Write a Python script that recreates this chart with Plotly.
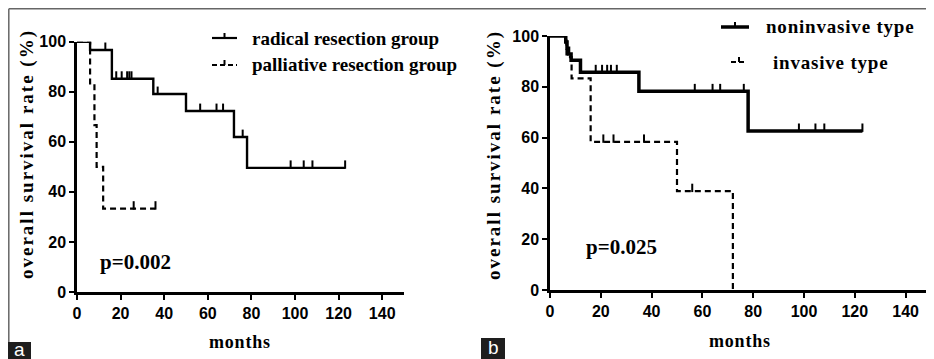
import plotly.graph_objects as go

# ---------------- data ----------------
months_ticks = [0, 20, 40, 60, 80, 100, 120, 140]
rate_ticks = [0, 20, 40, 60, 80, 100]

# panel a
radical_t = [0, 6, 16, 35, 50, 72, 78, 123]
radical_s = [100, 96.7, 85.2, 79.1, 72.3, 61.9, 49.6, 49.6]
radical_cens = [13, 18, 20.5, 23, 24, 25, 37, 56.5, 64, 67, 76, 98, 104, 108, 123]

palliative_t = [0, 6, 8, 9, 12, 36]
palliative_s = [100, 83.3, 66.7, 50, 33.3, 33.3]
palliative_cens = [26, 36]

# panel b
nonin_t = [0, 6.2, 6.7, 7.3, 8.3, 12, 35, 78, 123]
nonin_s = [100, 97.6, 95.2, 92.9, 90.5, 85.7, 78.2, 62.6, 62.6]
nonin_cens = [5.8, 18, 20.5, 22.5, 24, 26.3, 57, 64, 67, 76.3, 98, 104.5, 108, 123]

inv_t = [0, 6.5, 8.5, 16, 50, 72]
inv_s = [100, 91.7, 83.3, 58.3, 38.9, 0]
inv_cens = [21, 25, 37, 56]

# page is 934x359; the html body has an 8px margin, so the figure is 926x351 at (8, 8)
OFF = 8
W, H = 934 - OFF, 359 - OFF


def px(x):
    return (x - OFF) / W


def py(y):
    return 1 - (y - OFF) / H


def surv_at(ts, ss, t):
    v = ss[0]
    for ti, si in zip(ts, ss):
        if ti <= t:
            v = si
    return v


def ls(text, sp):
    return '<span style="letter-spacing:%spx">%s</span>' % (sp, text)


fig = go.Figure()

TICK_OFF = 1.3
DASH = "6px,4px"


def add_curve(ts, ss, cens, xa, ya, width, dash):
    fig.add_trace(go.Scatter(
        x=ts, y=ss, mode="lines", line=dict(shape="hv", color="black", width=width, dash=dash),
        xaxis=xa, yaxis=ya, showlegend=False, hoverinfo="skip", cliponaxis=False))
    cy = [surv_at(ts, ss, c) + TICK_OFF for c in cens]
    fig.add_trace(go.Scatter(
        x=cens, y=cy, mode="markers",
        marker=dict(symbol="line-ns", size=6, line=dict(color="black", width=2)),
        xaxis=xa, yaxis=ya, showlegend=False, hoverinfo="skip", cliponaxis=False))


add_curve(radical_t, radical_s, radical_cens, "x", "y", 2.4, "solid")
add_curve(palliative_t, palliative_s, palliative_cens, "x", "y", 2.2, DASH)
add_curve(nonin_t, nonin_s, nonin_cens, "x2", "y2", 3.5, "solid")
add_curve(inv_t, inv_s, inv_cens, "x2", "y2", 2.2, DASH)

tickfont = dict(family="Liberation Sans", size=16, color="black", weight="bold")
ax_common = dict(showline=True, linewidth=2.5, linecolor="black", ticks="outside", ticklen=5,
                 tickwidth=2, tickcolor="black", showgrid=False, zeroline=False,
                 tickfont=tickfont, fixedrange=True, automargin=False)

fig.update_layout(
    width=W, height=H, margin=dict(l=0, r=0, t=0, b=0, pad=0, autoexpand=False),
    plot_bgcolor="white", paper_bgcolor="white", showlegend=False,
    xaxis=dict(domain=[px(77), px(404)], range=[0, 150], tickvals=months_ticks, anchor="y", **ax_common),
    yaxis=dict(domain=[py(292), py(41.7)], range=[0, 100], tickvals=rate_ticks, anchor="x", **ax_common),
    xaxis2=dict(domain=[px(550), px(931)], range=[0, 150], tickvals=months_ticks, anchor="y2", **ax_common),
    yaxis2=dict(domain=[py(290), py(36)], range=[0, 100], tickvals=rate_ticks, anchor="x2", **ax_common),
)

serif = "Liberation Serif"
ann = []
shapes = []

# axis titles
for cx, cy in [(27, 154), (494, 155)]:
    ann.append(dict(x=px(cx), y=py(cy), xref="paper", yref="paper", text=ls("overall survival rate (%)", 2),
                    textangle=-90, showarrow=False, xanchor="center", yanchor="middle",
                    font=dict(family=serif, size=19, color="black", weight="bold")))
for cx, cy in [(240, 342), (740, 341)]:
    ann.append(dict(x=px(cx), y=py(cy), xref="paper", yref="paper", text=ls("months", 0.8),
                    showarrow=False, xanchor="center", yanchor="middle",
                    font=dict(family=serif, size=18, color="black", weight="bold")))

# p values
ann.append(dict(x=px(98), y=py(262), xref="paper", yref="paper", text="p=0.002", showarrow=False,
                xanchor="left", yanchor="middle", font=dict(family=serif, size=21, color="black", weight="bold")))
ann.append(dict(x=px(584), y=py(247), xref="paper", yref="paper", text="p=0.025", showarrow=False,
                xanchor="left", yanchor="middle", font=dict(family=serif, size=21, color="black", weight="bold")))

# legends
legend_items = [
    ("radical resection group", 212, 237, 38, 250, 2.2, "solid", 0),
    ("palliative resection group", 212, 237, 65, 250, 2.2, "5px,3px", 0),
    ("noninvasive type", 721, 749, 27, 764, 3.5, "solid", 0.8),
    ("invasive type", 731, 747, 62, 771, 2.2, "5px,3px", 0.8),
]
for text, x0, x1, yy, tx, w, d, sp in legend_items:
    shapes.append(dict(type="line", xref="paper", yref="paper", x0=px(x0), x1=px(x1), y0=py(yy), y1=py(yy),
                       line=dict(color="black", width=w, dash=d)))
    xm = (x0 + x1) / 2
    shapes.append(dict(type="line", xref="paper", yref="paper", x0=px(xm), x1=px(xm), y0=py(yy), y1=py(yy - 5),
                       line=dict(color="black", width=2)))
    ann.append(dict(x=px(tx), y=py(yy), xref="paper", yref="paper", text=ls(text, sp), showarrow=False,
                    xanchor="left", yanchor="middle",
                    font=dict(family=serif, size=19, color="black", weight="bold")))

# frame
shapes.append(dict(type="line", xref="paper", yref="paper", x0=px(8.8), x1=1, y0=py(8.8), y1=py(8.8),
                   line=dict(color="#666666", width=1.5)))
shapes.append(dict(type="line", xref="paper", yref="paper", x0=px(8.8), x1=px(8.8), y0=py(8.8), y1=0,
                   line=dict(color="#666666", width=1.5)))

# panel labels
for lab, x0, x1, y0 in [("a", 8, 31, 342), ("b", 481, 505, 338)]:
    shapes.append(dict(type="rect", xref="paper", yref="paper", x0=px(x0), x1=px(x1), y0=0, y1=py(y0),
                       fillcolor="#1e1e1e", line=dict(width=0)))
    ann.append(dict(x=px((x0 + x1) / 2), y=py((y0 + 359) / 2 - 1), xref="paper", yref="paper", text=lab,
                    showarrow=False, xanchor="center", yanchor="middle",
                    font=dict(family="Liberation Sans", size=19, color="white")))

fig.update_layout(annotations=ann, shapes=shapes)
fig.write_html("out.html")
